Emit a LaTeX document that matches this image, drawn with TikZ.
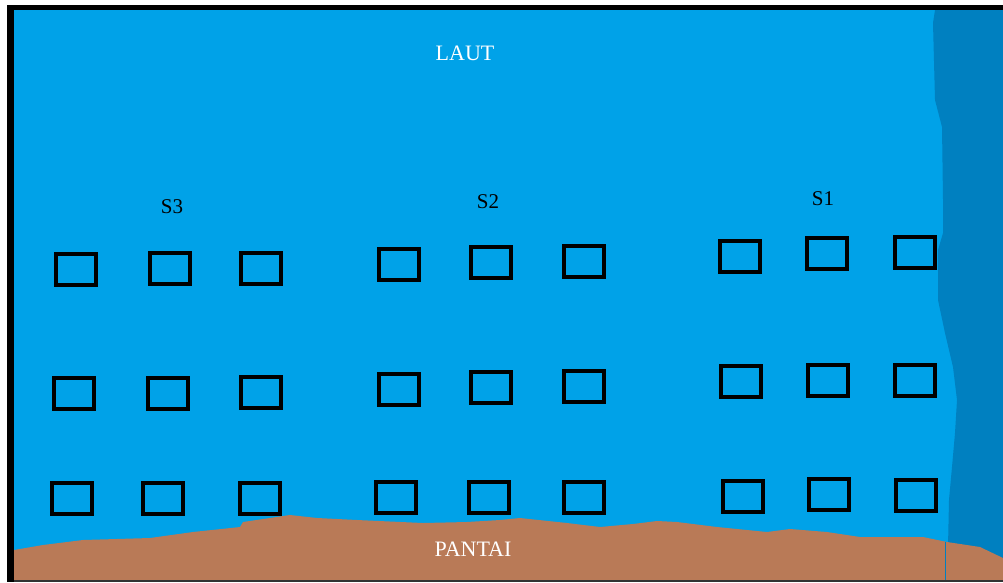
\documentclass[tikz,border=0pt]{standalone}
\usepackage{fontspec}
\setmainfont{Liberation Serif}
\definecolor{sea}{RGB}{0,162,232}
\definecolor{deepsea}{RGB}{0,128,192}
\definecolor{sand}{RGB}{185,122,87}
\begin{document}
\begin{tikzpicture}[x=1pt,y=-1pt,
  pond/.style={draw=black,line width=4pt,minimum width=40pt,minimum height=31pt,inner sep=0pt},
  lbl/.style={font=\fontsize{21}{24}\selectfont,text=black,inner sep=0pt},
  wlbl/.style={font=\fontsize{22}{25}\selectfont,text=white,inner sep=0pt}]
\useasboundingbox (0,0) rectangle (1003,582);
\fill[white] (0,0) rectangle (1003,582);
% sea
\fill[sea] (14,10) rectangle (1003,580);
% deep sea on the right
\fill[deepsea] (935,10) -- (933,23) -- (935,100) -- (942,127) -- (943,200) -- (943,233) -- (938,250) -- (938,300) -- (945,333) -- (953,367) -- (957,400) -- (955,433) -- (952,467) -- (949,500) -- (948,547) -- (945,580) -- (1003,580) -- (1003,10) -- cycle;
% sand
\fill[sand] (14,550) -- (43,545) -- (83,540) -- (150,538) -- (193,532) -- (240,527) -- (243,522) -- (290,515) -- (317,518) -- (357,520) -- (423,523) -- (467,522) -- (500,520) -- (520,518) -- (567,523) -- (600,527) -- (633,524) -- (657,521) -- (677,522) -- (717,527) -- (767,532) -- (790,529) -- (827,532) -- (860,537) -- (923,537) -- (947,542) -- (980,547) -- (1003,558) -- (1003,580) -- (14,580) -- cycle;
\draw[deepsea,line width=1pt] (945.5,542) -- (945.5,580);
% frame
\fill[black] (7,5) rectangle (1003,10);
\fill[black] (7,5) rectangle (14,582);
\draw[black!80,line width=1.5pt] (14,580.75) -- (1003,580.75);
% ponds row 1
\node[pond] (s3a) at (76,269.5) {};
\node[pond] (s3b) at (170,268.5) {};
\node[pond] (s3c) at (261,268.5) {};
\node[pond] (s2a) at (398.5,264) {};
\node[pond] (s2b) at (491,262.5) {};
\node[pond] (s2c) at (584,261) {};
\node[pond] (s1a) at (740,256.5) {};
\node[pond] (s1b) at (826.5,253.5) {};
\node[pond] (s1c) at (915,252) {};
% row 2
\node[pond] (s3d) at (73.5,393.5) {};
\node[pond] (s3e) at (167.5,393.5) {};
\node[pond] (s3f) at (261,392) {};
\node[pond] (s2d) at (398.5,389) {};
\node[pond] (s2e) at (491,387.5) {};
\node[pond] (s2f) at (584,386) {};
\node[pond] (s1d) at (741,381.5) {};
\node[pond] (s1e) at (828,380.5) {};
\node[pond] (s1f) at (915,380) {};
% row 3
\node[pond] (s3g) at (71.5,498) {};
\node[pond] (s3h) at (163,498) {};
\node[pond] (s3i) at (260,498) {};
\node[pond] (s2g) at (395.5,497) {};
\node[pond] (s2h) at (489,497) {};
\node[pond] (s2i) at (584,497) {};
\node[pond] (s1g) at (743,496) {};
\node[pond] (s1h) at (829,494.5) {};
\node[pond] (s1i) at (916,495) {};
% labels
\node[wlbl] (laut) at (465,53) {LAUT};
\node[wlbl] (pantai) at (473,549.5) {PANTAI};
\node[lbl] (ls3) at (172,207) {S3};
\node[lbl] (ls2) at (488,202) {S2};
\node[lbl] (ls1) at (823,199) {S1};
\end{tikzpicture}
\end{document}
